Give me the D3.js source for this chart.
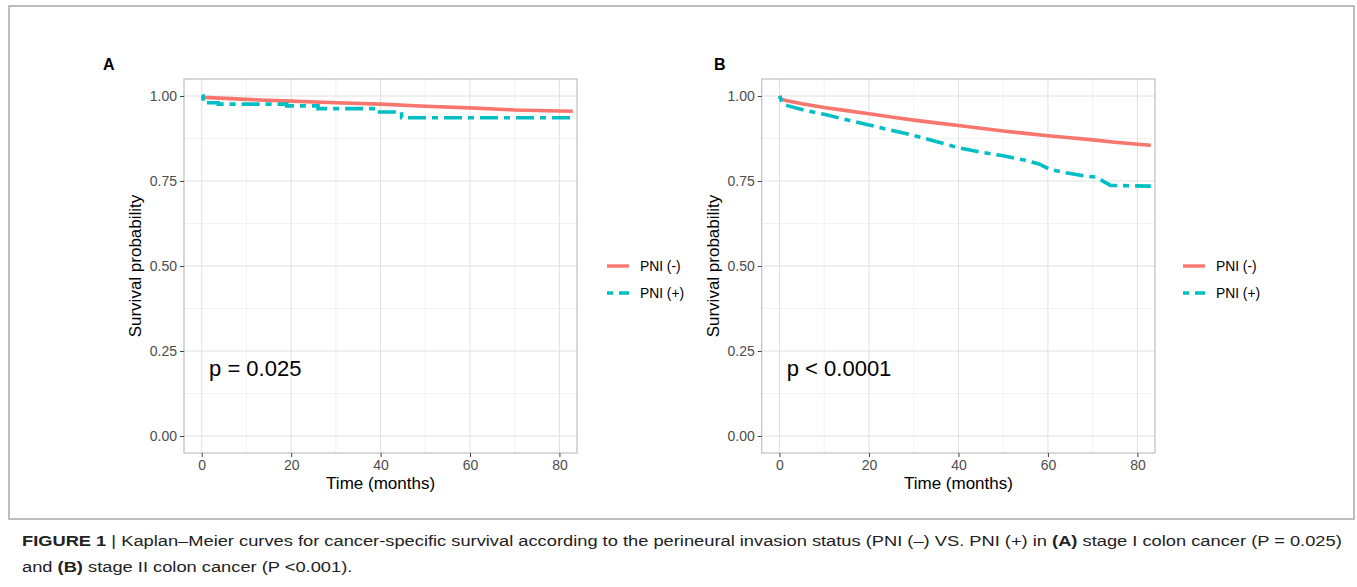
<!DOCTYPE html>
<html><head><meta charset="utf-8">
<script src="https://cdn.jsdelivr.net/npm/d3@7"></script>
<style>
html,body{margin:0;padding:0;background:#fff;}
svg{display:block;font-family:"Liberation Sans",Arial,Helvetica,sans-serif;}
</style></head>
<body>
<svg id="chart" width="1357" height="587"></svg>
<script>
// ---- data ----
const groups = ["PNI (-)", "PNI (+)"];
const xTicks = [0, 20, 40, 60, 80];
const yTicks = [0, 0.25, 0.5, 0.75, 1.0];
const yTickLabels = ["0.00", "0.25", "0.50", "0.75", "1.00"];

// Panel A (stage I)
const aNegTime = [0, 0.5, 10, 20, 30, 40, 50, 60, 70, 80, 83];
const aNegSurv = [1, 0.996, 0.990, 0.985, 0.980, 0.976, 0.970, 0.965, 0.959, 0.956, 0.955];
const aPosTime = [0, 0.3, 3.7, 19, 26, 38.8, 44.7, 83];
const aPosSurv = [1, 0.980, 0.976, 0.971, 0.963, 0.953, 0.936, 0.936];

// Panel B (stage II)
const bNegTime = [0, 0.5, 2, 5, 10, 15, 20, 25, 30, 35, 40, 45, 50, 55, 60, 65, 70, 75, 80, 83];
const bNegSurv = [1, 0.990, 0.985, 0.977, 0.966, 0.957, 0.948, 0.938, 0.929, 0.921, 0.913, 0.905, 0.897, 0.890, 0.883, 0.877, 0.871, 0.864, 0.858, 0.855];
const bPosTime = [0, 0.5, 1, 2, 5, 10, 15, 20, 25, 30, 35, 40, 45, 50, 55, 58, 60.5, 64, 68, 71, 72.5, 74, 83];
const bPosSurv = [1, 0.985, 0.975, 0.971, 0.960, 0.946, 0.930, 0.915, 0.899, 0.884, 0.866, 0.848, 0.835, 0.824, 0.811, 0.800, 0.784, 0.774, 0.765, 0.761, 0.748, 0.737, 0.735];

const panelLabels = ["A", "B"];
const pTexts = ["p = 0.025", "p < 0.0001"];
const colors = ["#F8766D", "#00BFC4"];

const svg = d3.select("#chart");

// outer frame
svg.append("rect").attr("x", 9).attr("y", 6).attr("width", 1345).attr("height", 513)
  .attr("fill", "none").attr("stroke", "#a8a8a8").attr("stroke-width", 1.5);

const panels = [
  {left: 184, right: 577, label: panelLabels[0], labelX: 103, yTitleX: 135, legX: 607,
   series: [[aNegTime, aNegSurv, d3.curveLinear], [aPosTime, aPosSurv, d3.curveStepAfter]], p: pTexts[0]},
  {left: 761.7, right: 1155, label: panelLabels[1], labelX: 714, yTitleX: 713, legX: 1183,
   series: [[bNegTime, bNegSurv, d3.curveLinear], [bPosTime, bPosSurv, d3.curveLinear]], p: pTexts[1]}
];
const plotTop = 79, plotBottom = 453;

panels.forEach((P) => {
  const x = d3.scaleLinear().domain([-3.97, 83.93]).range([P.left, P.right]);
  const y = d3.scaleLinear().domain([-0.05, 1.05]).range([plotBottom, plotTop]);
  const g = svg.append("g");

  // minor grid
  const xMinor = [10, 30, 50, 70];
  const yMinor = [0.125, 0.375, 0.625, 0.875];
  g.selectAll(".xminor").data(xMinor).enter().append("line")
    .attr("x1", d => x(d)).attr("x2", d => x(d)).attr("y1", plotTop).attr("y2", plotBottom)
    .attr("stroke", "#efefef").attr("stroke-width", 0.8);
  g.selectAll(".yminor").data(yMinor).enter().append("line")
    .attr("y1", d => y(d)).attr("y2", d => y(d)).attr("x1", P.left).attr("x2", P.right)
    .attr("stroke", "#efefef").attr("stroke-width", 0.8);
  // major grid
  g.selectAll(".xmajor").data(xTicks).enter().append("line")
    .attr("x1", d => x(d)).attr("x2", d => x(d)).attr("y1", plotTop).attr("y2", plotBottom)
    .attr("stroke", "#e0e0e0").attr("stroke-width", 1);
  g.selectAll(".ymajor").data(yTicks).enter().append("line")
    .attr("y1", d => y(d)).attr("y2", d => y(d)).attr("x1", P.left).attr("x2", P.right)
    .attr("stroke", "#e0e0e0").attr("stroke-width", 1);

  // curves
  P.series.forEach((s, i) => {
    const line = d3.line().x(d => x(d[0])).y(d => y(d[1])).curve(s[2]);
    const pts = s[0].map((t, k) => [t, s[1][k]]);
    g.append("path").datum(pts).attr("d", line)
      .attr("fill", "none").attr("stroke", colors[i])
      .attr("stroke-width", 3.6)
      .attr("stroke-dasharray", i === 1 ? "6,6,18,6" : null);
  });

  // panel border
  g.append("rect").attr("x", P.left).attr("y", plotTop)
    .attr("width", P.right - P.left).attr("height", plotBottom - plotTop)
    .attr("fill", "none").attr("stroke", "#c4c4c4").attr("stroke-width", 1.3);

  // axes
  const xAxis = d3.axisBottom(x).tickValues(xTicks).tickSize(4).tickPadding(3);
  const gx = g.append("g").attr("transform", `translate(0,${plotBottom})`).call(xAxis);
  const yAxis = d3.axisLeft(y).tickValues(yTicks).tickSize(4).tickPadding(3)
    .tickFormat((d, i) => yTickLabels[i]);
  const gy = g.append("g").attr("transform", `translate(${P.left},0)`).call(yAxis);
  [gx, gy].forEach(a => {
    a.select(".domain").remove();
    a.selectAll(".tick line").attr("stroke", "#444").attr("stroke-width", 1);
    a.selectAll(".tick text").attr("fill", "#4d4d4d")
      .style("font-size", "14px").style("font-family", "Liberation Sans, Arial, sans-serif");
  });

  // axis titles
  g.append("text").attr("x", (x(0) + x(80)) / 2).attr("y", 489)
    .attr("text-anchor", "middle").style("font-size", "17px").attr("fill", "#000")
    .text("Time (months)");
  g.append("text").attr("transform", `translate(${P.yTitleX},${(plotTop + plotBottom) / 2}) rotate(-90)`)
    .attr("text-anchor", "middle").attr("dy", "0.35em").style("font-size", "17px").attr("fill", "#000")
    .text("Survival probability");

  // panel label
  g.append("text").attr("x", P.labelX).attr("y", 70).style("font-size", "16px")
    .style("font-weight", "bold").text(P.label);

  // p text
  g.append("text").attr("x", x(0) + 7.3).attr("y", 376).style("font-size", "22px")
    .attr("fill", "#000").text(P.p);

  // legend
  groups.forEach((gr, i) => {
    const ly = 266 + i * 27;
    g.append("line").attr("x1", P.legX).attr("x2", P.legX + 22).attr("y1", ly).attr("y2", ly)
      .attr("stroke", colors[i]).attr("stroke-width", 3.4)
      .attr("stroke-dasharray", i === 1 ? "6,6,18,6" : null);
    g.append("text").attr("x", P.legX + 33).attr("y", ly).attr("dy", "0.35em")
      .style("font-size", "13.8px").attr("fill", "#000").text(gr);
  });
});

// caption
const capFont = "'Liberation Sans Narrow','Arial Narrow','Liberation Sans',sans-serif";
const cap1 = svg.append("text").attr("x", 22).attr("y", 546)
  .style("font-family", capFont).style("font-size", "15.5px").attr("fill", "#222");
cap1.append("tspan").style("font-weight", "bold").text("FIGURE 1");
cap1.append("tspan").text(" | Kaplan–Meier curves for cancer-specific survival according to the perineural invasion status (PNI (–) VS. PNI (+) in ");
cap1.append("tspan").style("font-weight", "bold").text("(A)");
cap1.append("tspan").text(" stage I colon cancer (P = 0.025)");
const cap2 = svg.append("text").attr("x", 22).attr("y", 572)
  .style("font-family", capFont).style("font-size", "15.5px").attr("fill", "#222");
cap2.append("tspan").text("and ");
cap2.append("tspan").style("font-weight", "bold").text("(B)");
cap2.append("tspan").text(" stage II colon cancer (P <0.001).");

const capScale = 1321 / cap1.node().getBBox().width;
[cap1, cap2].forEach(c => c.attr("transform", `translate(22,0) scale(${capScale},1) translate(-22,0)`));
</script>
</body></html>
